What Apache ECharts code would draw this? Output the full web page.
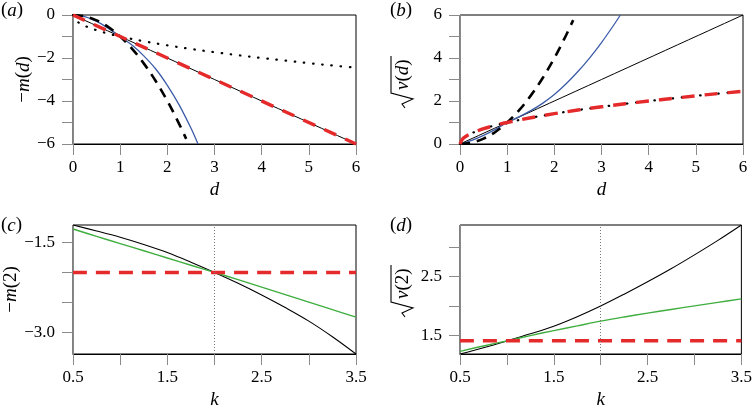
<!DOCTYPE html>
<html>
<head>
<meta charset="utf-8">
<script src="https://cdn.jsdelivr.net/npm/echarts@6/dist/echarts.min.js"></script>
<style>html,body{margin:0;padding:0;background:#fff;font-family:'Liberation Serif',serif}#c{width:755px;height:413px}</style>
</head>
<body>
<div id="c"></div>
<script>
// ---------- data ----------
// panels (a) and (b): d on x
const dLine = [0, 6];
const mLinear = [0, -6];
const vLinear = [0, 6];
const dQuad = [0, 0.25, 0.5, 0.75, 1, 1.25, 1.5, 1.75, 2, 2.2, 2.4];
const mQuad = [0, -0.06, -0.25, -0.56, -1, -1.56, -2.25, -3.06, -4, -4.84, -5.76];
const vQuad = [0, 0.06, 0.25, 0.56, 1, 1.56, 2.25, 3.06, 4, 4.84, 5.76];
const dBlueA = [0, 0.25, 0.5, 0.75, 1, 1.25, 1.5, 1.75, 2, 2.25, 2.5, 2.65];
const mBlue = [0, -0.08, -0.3, -0.62, -1, -1.4, -1.9, -2.5, -3.27, -4.18, -5.26, -6];
const dBlueB = [0, 0.25, 0.5, 0.75, 1, 1.25, 1.5, 1.75, 2, 2.25, 2.5, 2.75, 3, 3.25, 3.4];
const vBlue = [0, 0.17, 0.4, 0.68, 1, 1.26, 1.55, 1.89, 2.3, 2.8, 3.37, 4.01, 4.72, 5.5, 6.0];
const dRoot = [0, 0.05, 0.1, 0.2, 0.3, 0.5, 0.75, 1, 1.5, 2, 2.5, 3, 3.5, 4, 4.5, 5, 5.5, 6];
const mRoot = [0, -0.22, -0.32, -0.45, -0.55, -0.71, -0.87, -1, -1.22, -1.41, -1.58, -1.73, -1.87, -2, -2.12, -2.24, -2.35, -2.45];
const vRoot = [0, 0.22, 0.32, 0.45, 0.55, 0.71, 0.87, 1, 1.22, 1.41, 1.58, 1.73, 1.87, 2, 2.12, 2.24, 2.35, 2.45];
// panels (c) and (d): k on x
const kVals = [0.5, 0.75, 1, 1.25, 1.5, 1.75, 2, 2.25, 2.5, 2.75, 3, 3.25, 3.5];
const mBlackK = [-1.211, -1.31, -1.415, -1.535, -1.67, -1.83, -2.0, -2.18, -2.375, -2.585, -2.81, -3.07, -3.357];
const mGreenK = [-1.278, -1.40, -1.52, -1.64, -1.76, -1.88, -2.0, -2.12, -2.245, -2.37, -2.495, -2.62, -2.744];
const vBlackK = [1.189, 1.295, 1.41, 1.53, 1.66, 1.82, 2.0, 2.2, 2.41, 2.63, 2.865, 3.11, 3.37];
const vGreenK = [1.234, 1.325, 1.41, 1.50, 1.585, 1.665, 1.745, 1.815, 1.88, 1.942, 2.002, 2.062, 2.121];
const kEnds = [0.5, 3.5];
const mRedK = [-2, -2];
const vRedK = [1.414, 1.414];
const kMark = 2;
// axes
const dRange = [0, 6];
const kRange = [0.5, 3.5];
const aYRange = [-6, 0];
const bYRange = [0, 6];
const cYRange = [-3.357, -1.211];
const dYRange = [1.189, 3.37];
const dTicks = [0, 1, 2, 3, 4, 5, 6];
const aYTicks = [-6, -5, -4, -3, -2, -1, 0];
const aYLabels = [-6, -4, -2, 0];
const bYTicks = [0, 1, 2, 3, 4, 5, 6];
const bYLabels = [0, 2, 4, 6];
const kTicks = [0.5, 1, 1.5, 2, 2.5, 3, 3.5];
const kLabels = [0.5, 1.5, 2.5, 3.5];
const cYTicks = [-3, -2.5, -2, -1.5];
const cYLabels = [-3, -1.5];
const dYTicks = [1.5, 2, 2.5, 3];
const dYLabels = [1.5, 2.5];

// ---------- helpers ----------
const FONT = '"Liberation Serif", "Times New Roman", serif';
const zip = (xs, ys) => xs.map((x, i) => [x, ys[i]]);
const fmt = dec => v => (v < 0 ? '\u2212' : '') + Math.abs(v).toFixed(dec);
const RED = '#e52a2b', BLUE = '#3d5ca8', GREEN = '#3fae3f', TICK = '#8a8a8a';
const rich = {
  n: {fontFamily: FONT, fontSize: 19, color: '#000'},
  i: {fontFamily: FONT, fontSize: 19, fontStyle: 'italic', color: '#000'}
};

const grids = [
  {left: 73, top: 15, width: 283, height: 129},
  {left: 460, top: 15, width: 283, height: 129},
  {left: 73, top: 225, width: 283, height: 129},
  {left: 460, top: 225, width: 283, height: 129}
].map(g => Object.assign(g, {show: true, borderColor: '#000', borderWidth: 1, backgroundColor: 'transparent'}));

const tickLabelStyle = {fontFamily: FONT, fontSize: 17, color: '#000', fontWeight: 'normal', fontStyle: 'normal'};

function xAx(gi, range, ticks, labels, dec, name) {
  return {
    type: 'value', gridIndex: gi, min: range[0], max: range[1],
    name: name, nameLocation: 'middle', nameGap: 36,
    nameTextStyle: {fontFamily: FONT, fontSize: 19, fontStyle: 'italic', color: '#000'},
    axisLine: {show: true, onZero: false, lineStyle: {color: '#000', width: 1}},
    axisTick: {show: true, inside: false, length: 11, customValues: ticks, lineStyle: {color: TICK, width: 1}},
    axisLabel: Object.assign({show: true, margin: 15, customValues: labels,
      formatter: v => '{t|' + fmt(dec)(v) + '}', rich: {t: tickLabelStyle}}, tickLabelStyle),
    splitLine: {show: false}
  };
}
function yAx(gi, range, ticks, labels, dec, name, gap) {
  return {
    type: 'value', gridIndex: gi, min: range[0], max: range[1],
    name: name || '', nameLocation: 'middle', nameGap: gap || 33, nameRotate: 90,
    nameTextStyle: {rich: rich},
    axisLine: {show: true, onZero: false, lineStyle: {color: TICK, width: 1}},
    axisTick: {show: true, inside: false, length: 11, customValues: ticks, lineStyle: {color: TICK, width: 1}},
    axisLabel: Object.assign({show: true, margin: 18, customValues: labels,
      formatter: v => '{t|' + fmt(dec)(v) + '}', rich: {t: tickLabelStyle}}, tickLabelStyle),
    splitLine: {show: false}
  };
}

function line(gi, data, color, width, type, extra) {
  return Object.assign({
    type: 'line', xAxisIndex: gi, yAxisIndex: gi, data: data, showSymbol: false, symbol: 'none',
    smooth: 0.35, silent: true, clip: true,
    lineStyle: {color: color, width: width, type: type || 'solid', cap: 'butt'}
  }, extra || {});
}
const dotted = {color: '#000', width: 2.2, type: [0.5, 8.7], cap: 'round'};

const series = [
  // (a)
  line(0, zip(dLine, mLinear), '#000', 1),
  line(0, zip(dRoot, mRoot), '#000', 2.2, [0.5, 8.7], {lineStyle: dotted}),
  line(0, zip(dBlueA, mBlue), BLUE, 1.3),
  line(0, zip(dQuad, mQuad), '#000', 2.6, [10, 7]),
  line(0, zip(dLine, mLinear), RED, 3.4, [13, 10]),
  // (b)
  line(1, zip(dLine, vLinear), '#000', 1),
  line(1, zip(dRoot, vRoot), '#000', 2.2, [0.5, 8.7], {lineStyle: dotted}),
  line(1, zip(dBlueB, vBlue), BLUE, 1.3),
  line(1, zip(dQuad, vQuad), '#000', 2.6, [10, 7]),
  line(1, zip(dRoot, vRoot), RED, 3.4, [13, 10]),
  // (c)
  line(2, zip(kVals, mBlackK), '#000', 1.1, 'solid', {
    markLine: {silent: true, symbol: 'none', label: {show: false},
      lineStyle: {color: '#777', width: 1, type: [1, 2]}, data: [{xAxis: kMark}]}
  }),
  line(2, zip(kVals, mGreenK), GREEN, 1.4),
  line(2, zip(kEnds, mRedK), RED, 3.6, [14, 9]),
  // (d)
  line(3, zip(kVals, vBlackK), '#000', 1.1, 'solid', {
    markLine: {silent: true, symbol: 'none', label: {show: false},
      lineStyle: {color: '#777', width: 1, type: [1, 2]}, data: [{xAxis: kMark}]}
  }),
  line(3, zip(kVals, vGreenK), GREEN, 1.4),
  line(3, zip(kEnds, vRedK), RED, 3.6, [14, 9])
];

function panelLabel(letter, x, y) {
  return {type: 'text', left: x, top: y, silent: true,
    style: {text: '{n|(}{i|' + letter + '}{n|)}', rich: rich, fill: '#000'}};
}
function sqrtName(arg, cx, cy) {
  return {
    type: 'group', x: cx, y: cy, rotation: Math.PI / 2, silent: true,
    children: [
      {type: 'polyline', shape: {points: [[-33, 2], [-29, -1], [-24, 10], [-18, -12], [19, -12]]},
        style: {stroke: '#000', lineWidth: 1.1, fill: null}},
      {type: 'text', style: {text: '{i|v}{n|(}' + arg + '{n|)}', rich: rich, x: -15, y: 0,
        align: 'left', verticalAlign: 'middle', textAlign: 'left', textVerticalAlign: 'middle', fill: '#000'}}
    ]
  };
}

const option = {
  animation: false,
  backgroundColor: '#fff',
  textStyle: {fontFamily: FONT},
  grid: grids,
  xAxis: [
    xAx(0, dRange, dTicks, dTicks, 0, 'd'),
    xAx(1, dRange, dTicks, dTicks, 0, 'd'),
    xAx(2, kRange, kTicks, kLabels, 1, 'k'),
    xAx(3, kRange, kTicks, kLabels, 1, 'k')
  ],
  yAxis: [
    yAx(0, aYRange, aYTicks, aYLabels, 0, '{n|\u2212}{i|m}{n|(}{i|d}{n|)}', 33),
    yAx(1, bYRange, bYTicks, bYLabels, 0, ''),
    yAx(2, cYRange, cYTicks, cYLabels, 1, '{n|\u2212}{i|m}{n|(}{n|2}{n|)}', 33),
    yAx(3, dYRange, dYTicks, dYLabels, 1, '')
  ],
  series: series,
  graphic: [
    panelLabel('a', 1, 1),
    panelLabel('b', 390, 1),
    panelLabel('c', 1, 216),
    panelLabel('d', 390, 216),
    sqrtName('{i|d}', 403, 75),
    sqrtName('{n|2}', 403, 284)
  ]
};

const chart = echarts.init(document.getElementById('c'), null, {renderer: 'canvas'});
chart.setOption(option);
</script>
</body>
</html>
